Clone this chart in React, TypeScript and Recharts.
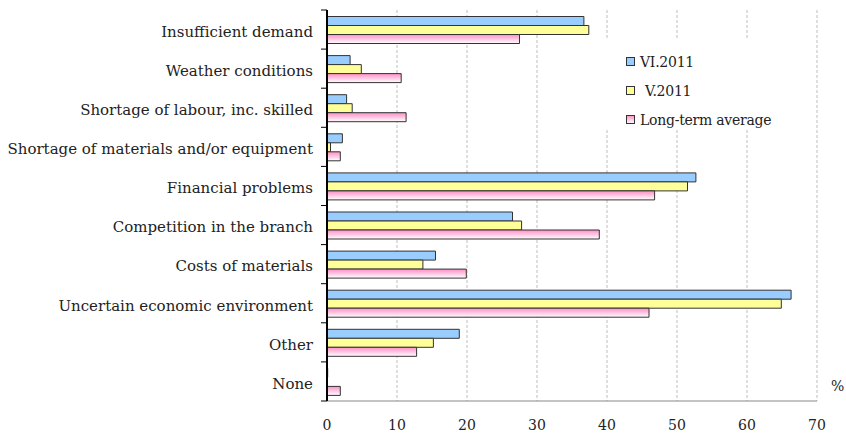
import React from "react";
import { BarChart, Bar, XAxis, YAxis, CartesianGrid } from "recharts";

const categories = [
  "Insufficient demand",
  "Weather conditions",
  "Shortage of labour, inc. skilled",
  "Shortage of materials and/or equipment",
  "Financial problems",
  "Competition in the branch",
  "Costs of materials",
  "Uncertain economic environment",
  "Other",
  "None",
];

const june2011 = [36.7, 3.3, 2.8, 2.2, 52.7, 26.5, 15.5, 66.3, 18.9, 0.1];
const may2011 = [37.4, 4.9, 3.6, 0.5, 51.5, 27.8, 13.7, 64.9, 15.2, 0];
const longTermAvg = [27.5, 10.6, 11.3, 1.9, 46.8, 38.9, 19.9, 46.0, 12.8, 1.9];

const xTicks = [0, 10, 20, 30, 40, 50, 60, 70];

const data = categories.map((name, i) => ({
  name,
  vi: june2011[i],
  v: may2011[i],
  lt: longTermAvg[i],
}));

const FONT = "'DejaVu Serif', 'Liberation Serif', serif";
const W = 846;
const H = 435;
const TOP = 10;
const PLOT_BOTTOM = 401;
const BAND = (PLOT_BOTTOM - TOP) / categories.length;

function CategoryTick(props: any) {
  const { x, y, payload, index } = props;
  const axisX = x + 14;
  const last = index === categories.length - 1;
  return (
    <g>
      <line x1={axisX - 6} x2={axisX} y1={y - BAND / 2} y2={y - BAND / 2} stroke="#000" />
      {last && <line x1={axisX - 6} x2={axisX} y1={y + BAND / 2} y2={y + BAND / 2} stroke="#000" />}
      <text
        x={x}
        y={y + 2}
        dy="0.355em"
        textAnchor="end"
        fontFamily={FONT}
        fontSize={15}
        fill="#222"
      >
        {payload.value}
      </text>
    </g>
  );
}

const legendItems = [
  { label: "VI.2011", fill: "#99CCFF", pad: 0 },
  { label: "V.2011", fill: "#FFFF99", pad: 5 },
  { label: "Long-term average", fill: "url(#ltLegend)", pad: 0 },
];

function LegendBox() {
  return (
    <div
      style={{
        position: "absolute",
        left: 580,
        top: 40,
        background: "#fff",
        width: 220,
        height: 88,
        fontFamily: FONT,
        fontSize: 14,
        letterSpacing: -0.25,
        color: "#222",
        paddingTop: 7,
        paddingLeft: 46,
        boxSizing: "border-box",
      }}
    >
      {legendItems.map((it) => (
        <div key={it.label} style={{ display: "flex", alignItems: "center", height: 29 }}>
          <svg width={10} height={10} style={{ marginRight: 4 }}>
            <defs>
              <linearGradient id="ltLegend" x1="0" y1="0" x2="0" y2="1">
                <stop offset="0%" stopColor="#FF8EC6" />
                <stop offset="100%" stopColor="#FFFFFF" />
              </linearGradient>
            </defs>
            <rect x={0.5} y={0.5} width={8} height={8} fill={it.fill} stroke="#333" />
          </svg>
          <span style={{ paddingLeft: it.pad }}>{it.label}</span>
        </div>
      ))}
    </div>
  );
}

export default function App() {
  return (
    <div style={{ position: "absolute", left: 0, top: 0, width: W, height: H, background: "#fff" }}>
      <BarChart
        width={W}
        height={H}
        data={data}
        layout="vertical"
        margin={{ top: TOP, right: 29, bottom: 1, left: 0 }}
        barCategoryGap={6.5}
        barGap={0}
      >
        <defs>
          <linearGradient id="ltGrad" x1="0" y1="0" x2="0" y2="1">
            <stop offset="0%" stopColor="#FF8EC6" />
            <stop offset="100%" stopColor="#FFFFFF" />
          </linearGradient>
        </defs>
        <CartesianGrid horizontal={false} stroke="#bdbdbd" strokeDasharray="3 2" />
        <XAxis
          type="number"
          domain={[0, 70]}
          ticks={xTicks}
          height={33}
          axisLine={{ stroke: "#888" }}
          tickLine={false}
          tickSize={6}
          tickMargin={13}
          tick={{ fontFamily: FONT, fontSize: 14, fill: "#222" }}
          label={{ value: "%", position: "right", offset: 14, dy: -31, fontFamily: FONT, fontSize: 14, fill: "#222" }}
        />
        <XAxis
          xAxisId="top"
          orientation="top"
          type="number"
          domain={[0, 70]}
          height={0}
          tick={false}
          tickLine={false}
          axisLine={{ stroke: "#000", strokeWidth: 1.5 }}
        />
        <YAxis
          type="category"
          dataKey="name"
          width={327}
          axisLine={{ stroke: "#000", strokeWidth: 2 }}
          tickLine={false}
          tickSize={0}
          tickMargin={14}
          interval={0}
          tick={<CategoryTick />}
        />
        <YAxis
          yAxisId="right"
          orientation="right"
          type="category"
          dataKey="name"
          width={0}
          tick={false}
          tickLine={false}
          axisLine={{ stroke: "#999", strokeWidth: 1.5 }}
        />
        <Bar dataKey="vi" name="VI.2011" fill="#99CCFF" stroke="#333" strokeWidth={1} isAnimationActive={false} />
        <Bar dataKey="v" name="V.2011" fill="#FFFF99" stroke="#333" strokeWidth={1} isAnimationActive={false} />
        <Bar dataKey="lt" name="Long-term average" fill="url(#ltGrad)" stroke="#333" strokeWidth={1} isAnimationActive={false} />
      </BarChart>
      <LegendBox />
    </div>
  );
}
